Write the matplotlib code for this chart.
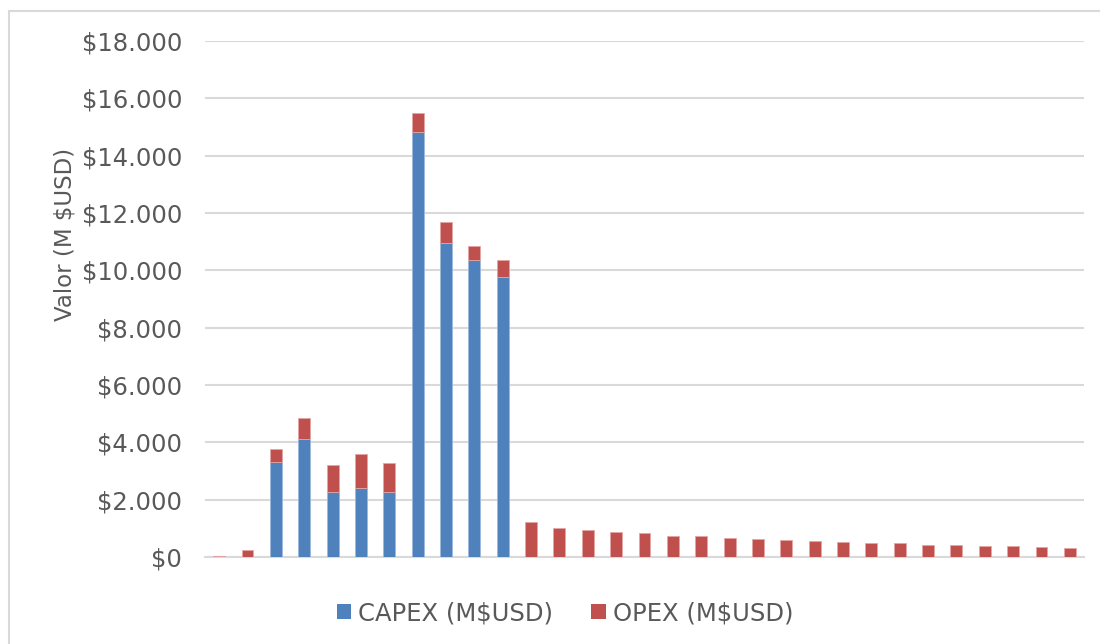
import matplotlib
matplotlib.use("Agg")
import matplotlib.pyplot as plt
from matplotlib.patches import Rectangle
from matplotlib.ticker import FuncFormatter, MultipleLocator

# Yearly investment (CAPEX) and operating cost (OPEX), millions of USD
periods = list(range(1, 32))
capex = [0, 0, 3300, 4120, 2270, 2400, 2270, 14830, 10960, 10350, 9760,
         0, 0, 0, 0, 0, 0, 0, 0, 0, 0, 0, 0, 0, 0, 0, 0, 0, 0, 0, 0]
opex = [30, 230, 480, 730, 950, 1200, 1010, 660, 710, 490, 590,
        1235, 1000, 955, 880, 837, 743, 720, 673, 627, 604, 558, 535,
        488, 476, 430, 410, 384, 372, 349, 314]
series_labels = ["CAPEX (M$USD)", "OPEX (M$USD)"]
y_label = "Valor (M $USD)"

BLUE = "#4F81BD"
RED = "#C0504D"
TEXT = "#595959"
GRID = "#D9D9D9"

W, H = 1100, 644
fig = plt.figure(figsize=(W / 100, H / 100), dpi=100)
fig.patch.set_facecolor("white")

# chart frame
fig.patches.append(Rectangle((8.5 / W, -0.1), 1.2, 1.1 - 11.5 / H,
                             transform=fig.transFigure, fill=False,
                             edgecolor=GRID, linewidth=1.5))

ax = fig.add_axes([205 / W, (H - 557) / H, (1084 - 205) / W, (557 - 41) / H])
x = list(range(len(periods)))
ax.bar(x, capex, width=0.42, color=BLUE, edgecolor="#9DB8DC",
       linewidth=0.6, label=series_labels[0], zorder=3)
ax.bar(x, opex, width=0.42, bottom=capex, color=RED, edgecolor="#E3A5A3",
       linewidth=0.6, label=series_labels[1], zorder=3)

ax.set_xlim(-0.5, len(periods) - 0.5)
ax.set_ylim(0, 18000)
ax.yaxis.set_major_locator(MultipleLocator(2000))
ax.yaxis.set_major_formatter(
    FuncFormatter(lambda v, _: "$" + f"{int(v):,}".replace(",", ".")))
ax.grid(axis="y", color=GRID, linewidth=1.5, zorder=0)
ax.set_axisbelow(True)
for side in ("top", "right", "left"):
    ax.spines[side].set_visible(False)
ax.spines["bottom"].set_color(GRID)
ax.spines["bottom"].set_linewidth(1.5)
ax.set_xticks([])
ax.tick_params(axis="y", length=0, pad=16.5, labelsize=17.5, labelcolor=TEXT)

fig.text(65 / W, 1 - 234 / H, y_label, rotation=90, ha="center",
         va="center", fontsize=16.5, color=TEXT)

leg = fig.legend(loc="center", bbox_to_anchor=((338 + 792) / 2 / W, (H - 613) / H),
                 ncol=2, frameon=False, fontsize=17.5, handlelength=0.6,
                 handleheight=0.6, handletextpad=0.3, columnspacing=1.55,
                 borderaxespad=0)
for t in leg.get_texts():
    t.set_color(TEXT)
for h in leg.legend_handles:
    h.set_edgecolor("none")

fig.savefig("out.png", dpi=100, facecolor="white")
